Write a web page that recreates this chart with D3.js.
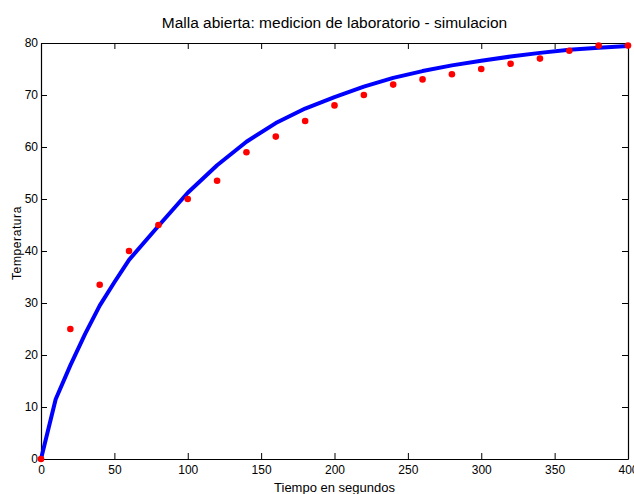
<!DOCTYPE html>
<html>
<head>
<meta charset="utf-8">
<script src="https://cdn.jsdelivr.net/npm/d3@7"></script>
<style>
  body { margin: 0; background: #fff; }
  svg text { font-family: "Liberation Sans", Arial, sans-serif; fill: #000; }
</style>
</head>
<body>
<div id="chart"></div>
<script>
// Measured points (laboratorio)
var medTime = [0, 20, 40, 60, 80, 100, 120, 140, 160, 180, 200, 220, 240, 260, 280, 300, 320, 340, 360, 380, 400];
var medTemp = [0, 25, 33.5, 40, 45, 50, 53.5, 59, 62, 65, 68, 70, 72, 73, 74, 75, 76, 77, 78.5, 79.5, 79.5];

// Simulation curve
var simTime = [0, 10, 20, 30, 40, 50, 60, 80, 100, 120, 140, 160, 180, 200, 220, 240, 260, 280, 300, 320, 340, 360, 380, 400];
var simTemp = [0, 11.5, 18, 24, 29.5, 34, 38.3, 44.8, 51.2, 56.5, 61, 64.6, 67.4, 69.6, 71.6, 73.3, 74.6, 75.7, 76.6, 77.4, 78.1, 78.7, 79.1, 79.4];

var xTicks = [0, 50, 100, 150, 200, 250, 300, 350, 400];
var yTicks = [0, 10, 20, 30, 40, 50, 60, 70, 80];

var svgWidth = 634;
var svgHeight = 494;
var margin = { top: 43, right: 6, bottom: 35, left: 41 };
var width = svgWidth - margin.left - margin.right;
var height = svgHeight - margin.top - margin.bottom;

var svg = d3.select("#chart")
    .append("svg")
    .attr("width", svgWidth)
    .attr("height", svgHeight);

var chartGroup = svg.append("g")
    .attr("transform", `translate(${margin.left}, ${margin.top})`);

var xScale = d3.scaleLinear().domain([0, 400]).range([0, width]);
var yScale = d3.scaleLinear().domain([0, 80]).range([height, 0]);

// axes, ticks pointing inward
var bottomAxis = d3.axisBottom(xScale).tickValues(xTicks).tickSizeInner(-6).tickSizeOuter(0).tickPadding(6);
var leftAxis = d3.axisLeft(yScale).tickValues(yTicks).tickSizeInner(-6).tickSizeOuter(0).tickPadding(3);
var topAxis = d3.axisTop(xScale).tickValues(xTicks).tickSizeInner(-6).tickSizeOuter(0).tickFormat("");
var rightAxis = d3.axisRight(yScale).tickValues(yTicks).tickSizeInner(-6).tickSizeOuter(0).tickFormat("");

function styleAxis(g) {
    g.selectAll("path").attr("stroke", "#000").attr("stroke-width", 1.2);
    g.selectAll("line").attr("stroke", "#000");
    g.selectAll("text").style("font-size", "12px").attr("fill", "#000");
}

chartGroup.append("g").attr("transform", `translate(0, ${height})`).call(bottomAxis).call(styleAxis);
chartGroup.append("g").call(leftAxis).call(styleAxis);
chartGroup.append("g").call(topAxis).call(styleAxis);
chartGroup.append("g").attr("transform", `translate(${width}, 0)`).call(rightAxis).call(styleAxis);

// simulation line
var line = d3.line()
    .x(function(d, i) { return xScale(simTime[i]); })
    .y(function(d) { return yScale(d); });

chartGroup.append("path")
    .datum(simTemp)
    .attr("fill", "none")
    .attr("stroke", "#0000ff")
    .attr("stroke-width", 4)
    .attr("stroke-linejoin", "round")
    .attr("d", line);

// measured dots
chartGroup.selectAll("circle")
    .data(medTemp)
    .enter()
    .append("circle")
    .attr("cx", function(d, i) { return xScale(medTime[i]); })
    .attr("cy", d => yScale(d))
    .attr("r", 3.3)
    .attr("fill", "#ff0000");

// title and labels
svg.append("text")
    .attr("x", margin.left + width / 2)
    .attr("y", 28)
    .attr("text-anchor", "middle")
    .style("font-size", "15.5px")
    .text("Malla abierta: medicion de laboratorio - simulacion");

svg.append("text")
    .attr("x", margin.left + width / 2)
    .attr("y", 492)
    .attr("text-anchor", "middle")
    .style("font-size", "13px")
    .text("Tiempo en segundos");

svg.append("text")
    .attr("transform", "translate(21, 243) rotate(-90)")
    .attr("text-anchor", "middle")
    .style("font-size", "12px")
    .style("letter-spacing", "0.6px")
    .text("Temperatura");
</script>
</body>
</html>
